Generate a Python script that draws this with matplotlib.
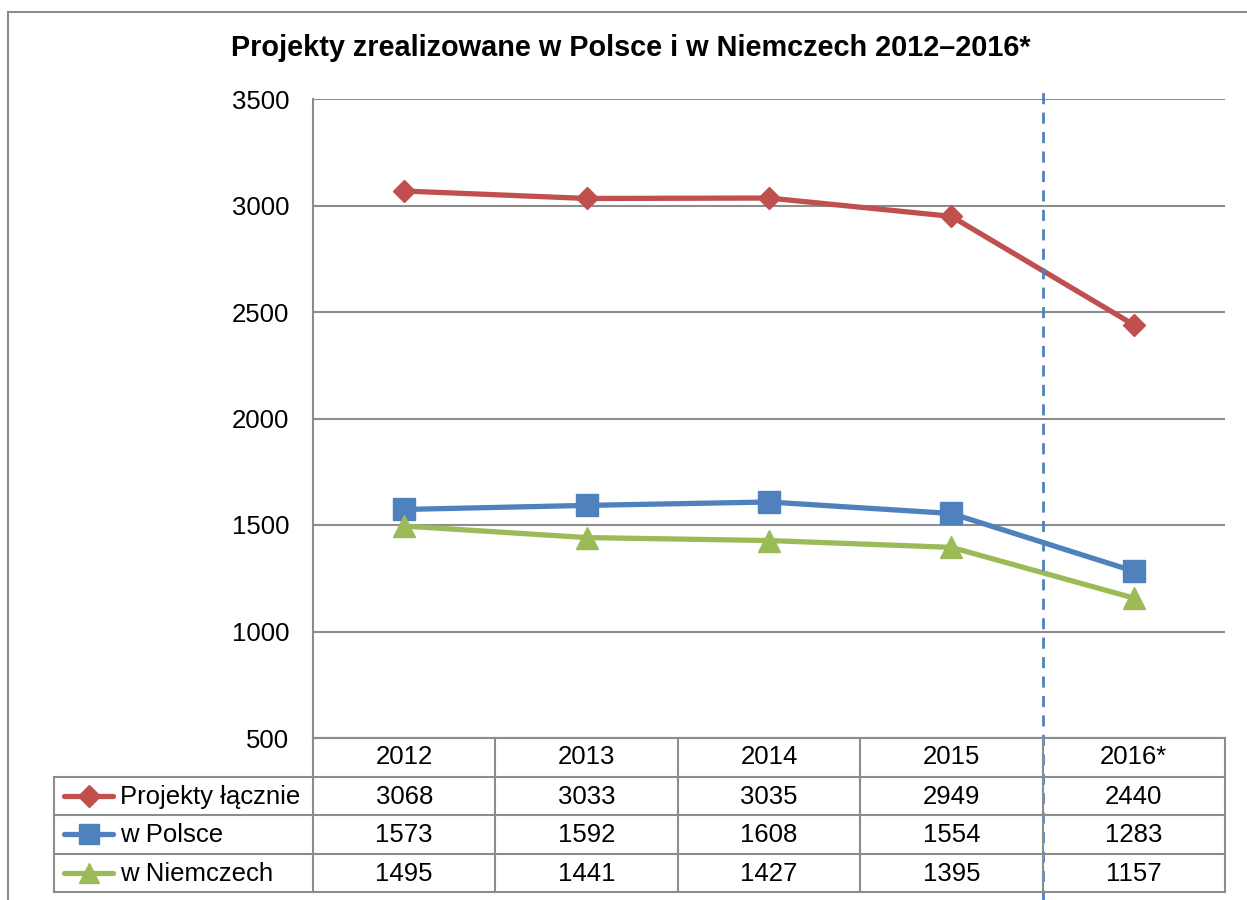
import matplotlib
matplotlib.use("Agg")
from matplotlib import pyplot as plt

plt.rcParams['font.family'] = ['Liberation Sans', 'DejaVu Sans']

years  = ["2012", "2013", "2014", "2015", "2016*"]
total  = [3068, 3033, 3035, 2949, 2440]
poland = [1573, 1592, 1608, 1554, 1283]
germany = [1495, 1441, 1427, 1395, 1157]

series = [
    ("Projekty łącznie", total,   "#C0504D", "D", 11.5),
    ("w Polsce",         poland,  "#4F81BD", "s", 15.5),
    ("w Niemczech",      germany, "#9BBB59", "^", 15.5),
]

W, H = 1247, 900
fig = plt.figure(figsize=(W/100, H/100), dpi=100)
grid = "#8C8C8C"

# outer chart border
fig.patches.append(plt.Rectangle((8/W, -0.1), 1.2, (H-12)/H + 0.1, transform=fig.transFigure,
                                 fill=False, edgecolor="#8C8C8C", lw=1.5))

# plot area
L, R, T, B = 313, 1225, 99, 738
ax = fig.add_axes([L/W, (H-B)/H, (R-L)/W, (B-T)/H])
x = list(range(len(years)))
for name, vals, col, mk, ms in series:
    ax.plot(x, vals, color=col, lw=3.8, marker=mk, markersize=ms, markeredgecolor=col,
            markeredgewidth=1, solid_joinstyle="round", solid_capstyle="round", zorder=3)
ax.set_xlim(-0.5, len(years) - 0.5)
ax.set_ylim(500, 3500)
ax.set_yticks(range(500, 3501, 500))
ax.tick_params(axis="y", length=0, labelsize=18.5, pad=17)
ax.set_xticks([])
ax.grid(axis="y", color=grid, lw=1.5)
for s in ["top", "right", "bottom"]:
    ax.spines[s].set_visible(False)
ax.spines["left"].set_color(grid)
ax.spines["left"].set_linewidth(1.5)
ax.set_axisbelow(True)

# dashed separator before forecast year
ax.axvline(3.5, ymin=-0.26, ymax=1.012, color="#4F81BD", lw=2, ls=(0, (4, 3)),
           clip_on=False, zorder=4)

fig.text(631/W, 1 - 48/H, "Projekty zrealizowane w Polsce i w Niemczech 2012–2016*",
         ha="center", va="center", fontsize=20.8, fontweight="bold")

# data table
rows_top, row_h = 738, 38.5
tab = fig.add_axes([L/W, (H - rows_top - 4*row_h)/H, (R-L)/W, 4*row_h/H])
tab.set_xlim(-0.5, len(years) - 0.5)
tab.set_ylim(4, 0)
tab.axis("off")
col_w = (R - L) / len(years)
lab_left = -0.5 - (L - 54) / col_w
kw = dict(color=grid, lw=1.5, clip_on=False)
# horizontal lines
tab.plot([-0.5, 4.5], [0, 0], **kw)
for r in range(1, 5):
    tab.plot([lab_left, 4.5], [r, r], **kw)
# vertical lines
tab.plot([lab_left, lab_left], [1, 4], **kw)
for c in range(len(years) + 1):
    tab.plot([c - 0.5, c - 0.5], [0, 4], **kw)

for c, y in enumerate(years):
    tab.text(c, 0.5, y, ha="center", va="center", fontsize=18.5)
for r, (name, vals, col, mk, ms) in enumerate(series, start=1):
    for c, v in enumerate(vals):
        tab.text(c, r + 0.52, str(v), ha="center", va="center", fontsize=18.5)
    kx0 = lab_left + 10 / col_w
    kx1 = lab_left + 59 / col_w
    tab.plot([kx0, kx1], [r + 0.5, r + 0.5], color=col, lw=3.8, clip_on=False,
             solid_capstyle="round")
    tab.plot([(kx0 + kx1) / 2], [r + 0.5], marker=mk, color=col, markersize=ms * 0.95,
             clip_on=False)
    tab.text(lab_left + 66 / col_w, r + 0.52, name, ha="left", va="center", fontsize=18.5)

fig.savefig("out.png", dpi=100)
